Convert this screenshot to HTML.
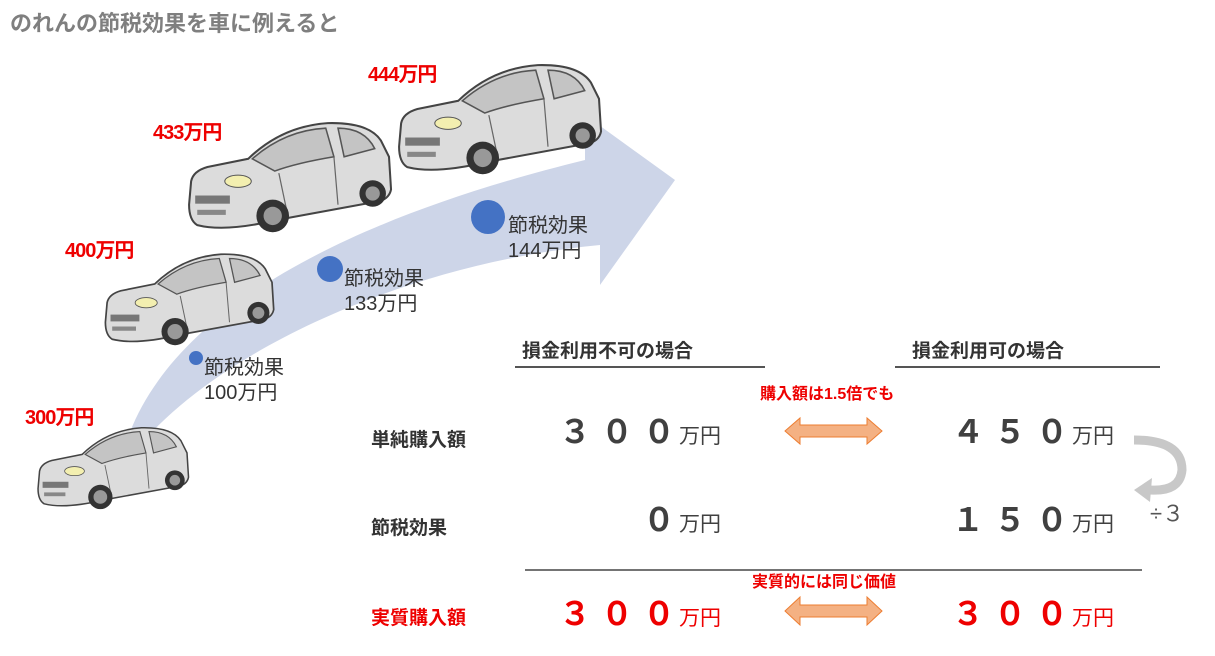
<!DOCTYPE html>
<html><head><meta charset="utf-8"><style>
body{margin:0;width:1215px;height:656px;background:#fff;position:relative;overflow:hidden;font-family:"Liberation Sans","Noto Sans CJK JP",sans-serif}
.a{position:absolute;white-space:nowrap}
.t{left:10px;top:6px;font-size:22px;font-weight:bold;color:#7f7f7f}
.p{color:#e00;font-weight:bold;font-size:20px;letter-spacing:-1px}
.s{color:#333;font-size:20px;line-height:25px}
.h{font-size:19px;font-weight:bold;color:#333}
.n{font-size:32px;font-weight:bold;color:#404040;letter-spacing:10px;text-align:right}
.n span{font-size:21px;font-weight:normal;letter-spacing:0;margin-left:-6px}
.r{color:#e00}
.rl{color:#e00;font-weight:bold;font-size:16px}
</style></head><body>
<svg class="a" style="left:0;top:0" width="1215" height="656">
<defs>
<g id="car">
<path d="M6 62 Q8 52 22 48 L62 40 Q95 8 140 5 Q180 4 192 22 L200 38 L202 70 Q200 80 188 82 L90 100 Q40 112 12 105 Q4 100 4 85Z" fill="#dcdcdc" stroke="#444" stroke-width="2"/>
<path d="M66 40 Q98 12 138 10 L146 38 Q110 44 88 52Z" fill="#c4c4c4" stroke="#555" stroke-width="1.5"/>
<path d="M150 10 Q176 10 186 30 L156 38Z" fill="#c4c4c4" stroke="#555" stroke-width="1.5"/>
<path d="M146 38 L150 85" stroke="#666" stroke-width="1.2" fill="none"/>
<path d="M92 54 L100 92" stroke="#666" stroke-width="1.2" fill="none"/>
<ellipse cx="52" cy="62" rx="13" ry="6" fill="#f3efb0" stroke="#555"/>
<rect x="10" y="76" width="34" height="8" fill="#777"/>
<rect x="12" y="90" width="28" height="5" fill="#888"/>
<circle cx="86" cy="96" r="16" fill="#333"/><circle cx="86" cy="96" r="9" fill="#999"/>
<circle cx="184" cy="74" r="13" fill="#333"/><circle cx="184" cy="74" r="7" fill="#999"/>
</g>
</defs>
<path d="M130 432 C170 330 300 230 585 160 L585 115 L675 180 L600 285 L600 245 C420 262 240 340 152 432Z" fill="#cdd5e8"/>
<use href="#car" transform="translate(35,424) scale(0.76)"/>
<use href="#car" transform="translate(102,250) scale(0.85)"/>
<use href="#car" transform="translate(185,118) scale(1.02)"/>
<use href="#car" transform="translate(395,60) scale(1.02)"/>
<circle cx="488" cy="217" r="17" fill="#4472c4"/>
<circle cx="330" cy="269" r="13" fill="#4472c4"/>
<circle cx="196" cy="358" r="7" fill="#4472c4"/>
<line x1="515" y1="367" x2="765" y2="367" stroke="#555" stroke-width="2"/>
<line x1="895" y1="367" x2="1160" y2="367" stroke="#555" stroke-width="2"/>
<line x1="525" y1="570" x2="1142" y2="570" stroke="#222" stroke-width="1.3"/>
<g fill="#f4b183" stroke="#ed7d31" stroke-width="1">
<path d="M785 431 L800 418 L800 425 L867 425 L867 418 L882 431 L867 444 L867 437 L800 437 L800 444Z"/>
<path d="M785 611 L800 597 L800 605 L867 605 L867 597 L882 611 L867 625 L867 617 L800 617 L800 625Z"/>
</g>
<path d="M1134 440 Q1182 440 1182 470 Q1180 492 1150 490" fill="none" stroke="#c8c8c8" stroke-width="9"/>
<path d="M1134 490 L1152 478 L1150 502Z" fill="#c8c8c8"/>
</svg>
<div class="a t">のれんの節税効果を車に例えると</div>
<div class="a p" style="left:368px;top:58px">444万円</div>
<div class="a p" style="left:153px;top:116px">433万円</div>
<div class="a p" style="left:65px;top:234px">400万円</div>
<div class="a p" style="left:25px;top:401px">300万円</div>
<div class="a s" style="left:508px;top:214px">節税効果<br>144万円</div>
<div class="a s" style="left:344px;top:267px">節税効果<br>133万円</div>
<div class="a s" style="left:204px;top:356px">節税効果<br>100万円</div>
<div class="a h" style="left:522px;top:336px">損金利用不可の場合</div>
<div class="a h" style="left:912px;top:336px">損金利用可の場合</div>
<div class="a h" style="left:371px;top:425px">単純購入額</div>
<div class="a h" style="left:371px;top:513px">節税効果</div>
<div class="a h r" style="left:371px;top:603px">実質購入額</div>
<div class="a rl" style="left:760px;top:380px">購入額は1.5倍でも</div>
<div class="a rl" style="left:752px;top:568px">実質的には同じ価値</div>
<div class="a n" style="right:494px;top:407px">３００<span>万円</span></div>
<div class="a n" style="right:101px;top:407px">４５０<span>万円</span></div>
<div class="a n" style="right:494px;top:495px">０<span>万円</span></div>
<div class="a n" style="right:101px;top:495px">１５０<span>万円</span></div>
<div class="a n r" style="right:494px;top:589px">３００<span>万円</span></div>
<div class="a n r" style="right:101px;top:589px">３００<span>万円</span></div>
<div class="a" style="left:1150px;top:496px;font-size:22px;color:#555">÷３</div>
</body></html>
